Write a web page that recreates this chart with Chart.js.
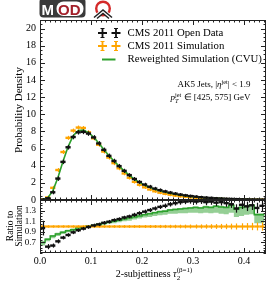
<!DOCTYPE html>
<html><head><meta charset="utf-8">
<script src="https://cdn.jsdelivr.net/npm/chart.js@4/dist/chart.umd.min.js"></script>
<style>
html,body{margin:0;padding:0;background:#fff;}
#wrap{position:relative;width:274px;height:287px;}
canvas{position:absolute;left:0;top:0;}
</style></head><body>
<div id="wrap"><canvas id="c1" width="274" height="287"></canvas><canvas id="c2" width="274" height="287"></canvas></div>
<script>
// ---------- data ----------
const binCenters = [0.005,0.015,0.025,0.035,0.045,0.055,0.065,0.075,0.085,0.095,0.105,0.115,0.125,0.135,0.145,0.155,0.165,0.175,0.185,0.195,0.205,0.215,0.225,0.235,0.245,0.255,0.265,0.275,0.285,0.295,0.305,0.315,0.325,0.335,0.345,0.355,0.365,0.375,0.385,0.395,0.405,0.415,0.425,0.435];
const binEdges = [0,0.01,0.02,0.03,0.04,0.05,0.06,0.07,0.08,0.09,0.10,0.11,0.12,0.13,0.14,0.15,0.16,0.17,0.18,0.19,0.20,0.21,0.22,0.23,0.24,0.25,0.26,0.27,0.28,0.29,0.30,0.31,0.32,0.33,0.34,0.35,0.36,0.37,0.38,0.39,0.40,0.41,0.42,0.43,0.44];
const dataMain = [0.05,0.2,0.9,2.5,4.45,6.15,7.35,7.9,7.95,7.75,7.3,6.6,5.85,5.15,4.55,3.95,3.4,2.9,2.45,2.1,1.8,1.55,1.33,1.15,1.0,0.86,0.74,0.63,0.54,0.46,0.39,0.33,0.28,0.24,0.2,0.17,0.14,0.12,0.1,0.08,0.07,0.06,0.05,0.04];
const dataMainErr = [0.05,0.08,0.12,0.15,0.15,0.15,0.15,0.15,0.15,0.15,0.15,0.15,0.15,0.15,0.15,0.14,0.13,0.12,0.12,0.11,0.1,0.1,0.09,0.09,0.08,0.08,0.07,0.07,0.06,0.06,0.05,0.05,0.05,0.04,0.04,0.04,0.03,0.03,0.03,0.03,0.03,0.02,0.02,0.02];
const simMain = [0.05,0.3,1.42,3.5,5.6,7.25,8.1,8.45,8.4,7.9,7.2,6.45,5.65,4.95,4.3,3.7,3.1,2.6,2.12,1.78,1.48,1.23,1.02,0.86,0.73,0.62,0.52,0.44,0.37,0.31,0.27,0.23,0.19,0.16,0.14,0.12,0.1,0.08,0.07,0.06,0.05,0.04,0.035,0.03];
const simMainErr = [0.05,0.08,0.12,0.12,0.12,0.12,0.12,0.12,0.12,0.12,0.12,0.12,0.12,0.12,0.12,0.11,0.1,0.1,0.09,0.09,0.08,0.08,0.07,0.07,0.06,0.06,0.05,0.05,0.05,0.04,0.04,0.04,0.03,0.03,0.03,0.03,0.03,0.02,0.02,0.02,0.02,0.02,0.02,0.02];
const rewMain = [0.05,0.25,1.05,2.6,4.5,6.2,7.5,8.1,8.15,7.85,7.35,6.65,5.9,5.2,4.55,3.95,3.4,2.9,2.42,2.05,1.74,1.48,1.26,1.08,0.93,0.8,0.68,0.58,0.49,0.42,0.36,0.31,0.26,0.22,0.19,0.16,0.14,0.12,0.1,0.08,0.07,0.06,0.05,0.04];

const ratioData = [0.97,0.62,0.64,0.72,0.79,0.84,0.89,0.93,0.96,0.99,1.02,1.04,1.07,1.09,1.12,1.14,1.17,1.19,1.22,1.25,1.28,1.31,1.34,1.37,1.39,1.42,1.44,1.46,1.47,1.48,1.47,1.48,1.46,1.47,1.45,1.46,1.44,1.42,1.34,1.41,1.38,1.4,1.35,1.39];
const ratioDataErr = [0.12,0.03,0.02,0.02,0.015,0.015,0.015,0.015,0.015,0.015,0.015,0.015,0.015,0.015,0.015,0.015,0.015,0.015,0.02,0.02,0.02,0.02,0.02,0.02,0.025,0.025,0.025,0.03,0.03,0.03,0.035,0.035,0.04,0.04,0.045,0.045,0.05,0.05,0.06,0.06,0.07,0.07,0.08,0.09];
const ratioSim = [1,1,1,1,1,1,1,1,1,1,1,1,1,1,1,1,1,1,1,1,1,1,1,1,1,1,1,1,1,1,1,1,1,1,1,1,1,1,1,1,1,1,1,1];
const ratioSimErr = [0.01,0.005,0.004,0.004,0.004,0.004,0.004,0.004,0.004,0.004,0.004,0.005,0.005,0.005,0.006,0.006,0.007,0.007,0.008,0.008,0.009,0.01,0.01,0.011,0.012,0.013,0.014,0.015,0.016,0.018,0.02,0.021,0.023,0.025,0.027,0.03,0.032,0.035,0.038,0.042,0.046,0.05,0.055,0.06];
const ratioRew = [1.0,0.7,0.76,0.82,0.86,0.89,0.92,0.94,0.97,0.99,1.01,1.02,1.04,1.06,1.08,1.1,1.12,1.14,1.16,1.18,1.2,1.22,1.24,1.26,1.28,1.29,1.31,1.32,1.33,1.34,1.35,1.36,1.35,1.37,1.36,1.38,1.37,1.36,1.4,1.33,1.36,1.38,1.4,1.22];
const ratioRewLo = [0.96,0.64,0.72,0.78,0.82,0.86,0.89,0.91,0.94,0.96,0.98,0.99,1.01,1.03,1.05,1.06,1.08,1.1,1.11,1.13,1.15,1.17,1.18,1.2,1.21,1.22,1.24,1.24,1.25,1.25,1.26,1.26,1.25,1.26,1.25,1.26,1.24,1.23,1.26,1.18,1.2,1.22,1.23,1.06];
const ratioRewHi = [1.02,0.72,0.78,0.84,0.88,0.91,0.94,0.96,0.99,1.01,1.03,1.04,1.06,1.08,1.1,1.12,1.14,1.16,1.18,1.2,1.22,1.24,1.26,1.28,1.3,1.31,1.33,1.34,1.35,1.36,1.37,1.38,1.37,1.39,1.38,1.4,1.39,1.38,1.42,1.35,1.38,1.4,1.42,1.25];

const mainYTicks = [0,2,4,6,8,10,12,14,16,18,20];
const ratioYTicks = [0.7,0.9,1.1,1.3];
const xTicks = [0.0,0.1,0.2,0.3,0.4];
const xTickLabels = ['0.0','0.1','0.2','0.3','0.4'];
const legendLabels = ['CMS 2011 Open Data','CMS 2011 Simulation','Reweighted Simulation (CVU)'];

// ---------- layout / style ----------
const L = 40, R = 266, T = 20, MID = 200, B = 253;
const XMAX = 0.443;
const SERIF = "'Liberation Serif','Times New Roman',serif";
const BLACK = '#111', ORANGE = '#ffa500', GREEN = '#2ca02c', BAND = 'rgba(44,160,44,0.5)';

const pts = (xs, ys) => xs.map((x,i)=>({x, y: ys[i]}));
const stepPts = (edges, ys) => edges.map((x,i)=>({x, y: ys[Math.min(i, ys.length-1)]}));

function rich(ctx, parts, x, y, align){
  let w = 0;
  parts.forEach(p=>{ ctx.font = (p.it?'italic ':'') + p.s + 'px ' + SERIF; p.w = ctx.measureText(p.t).width; if(!p.noAdv) w += p.w; });
  let cx = align==='right' ? x - w : align==='center' ? x - w/2 : x;
  ctx.textAlign = 'left';
  parts.forEach(p=>{ ctx.font = (p.it?'italic ':'') + p.s + 'px ' + SERIF; ctx.fillText(p.t, cx, y + (p.dy||0)); if(!p.noAdv) cx += p.w; });
}

const errPlugin = {
  id: 'err',
  afterDatasetDraw(chart, args){
    const ds = chart.data.datasets[args.index];
    if(!ds.errors) return;
    const ctx = chart.ctx, xs = chart.scales.x, ys = chart.scales.y, a = chart.chartArea;
    ctx.save();
    ctx.beginPath(); ctx.rect(a.left, a.top, a.right-a.left, a.bottom-a.top); ctx.clip();
    ctx.strokeStyle = ds.borderColor; ctx.lineWidth = ds.errWidth || 1.2;
    ds.data.forEach((p,i)=>{
      const e = ds.errors[i]; if(!e) return;
      const x = Math.round(xs.getPixelForValue(p.x)) + 0.5;
      ctx.beginPath();
      ctx.moveTo(x, ys.getPixelForValue(p.y - e) + 1);
      ctx.lineTo(x, ys.getPixelForValue(p.y + e) - 1);
      ctx.stroke();
    });
    ctx.restore();
  }
};

function ticksPlugin(yMajor, yMinorStep, yMin, yMax){
  return {
    id: 'frameTicks',
    afterDraw(chart){
      const ctx = chart.ctx, a = chart.chartArea, xs = chart.scales.x, ys = chart.scales.y;
      ctx.save();
      ctx.strokeStyle = '#222'; ctx.lineWidth = 1;
      ctx.strokeRect(Math.round(a.left)+0.5, Math.round(a.top)+0.5, Math.round(a.right-a.left)-1, Math.round(a.bottom-a.top)-1);
      ctx.beginPath();
      for(let k=0; k<=44; k++){
        const v = k*0.01; if(v > XMAX) break;
        const major = (k % 10 === 0);
        const len = major ? 5 : 2.5;
        const x = Math.round(xs.getPixelForValue(v)) + 0.5;
        ctx.moveTo(x, a.bottom); ctx.lineTo(x, a.bottom - len);
        ctx.moveTo(x, a.top); ctx.lineTo(x, a.top + len);
      }
      const n = Math.round((yMax - yMin)/yMinorStep);
      for(let k=0; k<=n; k++){
        const v = yMin + k*yMinorStep;
        const major = yMajor.some(m=>Math.abs(m-v)<1e-6);
        const len = major ? 5 : 2.5;
        const y = Math.round(ys.getPixelForValue(v)) + 0.5;
        ctx.moveTo(a.left, y); ctx.lineTo(a.left + len, y);
        ctx.moveTo(a.right, y); ctx.lineTo(a.right - len, y);
      }
      ctx.stroke();
      ctx.restore();
    }
  };
}

const decoPlugin = {
  id: 'deco',
  afterDraw(chart){
    const ctx = chart.ctx;
    ctx.save();
    // logo
    ctx.fillStyle = '#3a3a3a';
    ctx.beginPath(); ctx.roundRect(39.5, -2, 46, 19.5, 4); ctx.fill();
    ctx.fillStyle = '#fff';
    ctx.beginPath(); ctx.roundRect(56.5, 1.5, 27, 14.5, 7); ctx.fill();
    ctx.font = "bold 15px 'Liberation Sans',Arial,sans-serif";
    ctx.textBaseline = 'alphabetic'; ctx.textAlign = 'left';
    ctx.fillStyle = '#fff'; ctx.fillText('M', 41.5, 14.5);
    ctx.fillStyle = '#a3202a'; ctx.fillText('OD', 58, 14.5);
    ctx.strokeStyle = '#d42a2a'; ctx.lineWidth = 2.4;
    ctx.beginPath(); ctx.arc(103, 8.5, 6.8, 0, Math.PI*2); ctx.stroke();
    ctx.strokeStyle = '#fff'; ctx.lineWidth = 4;
    ctx.beginPath(); ctx.moveTo(94,18); ctx.lineTo(103,10.5); ctx.lineTo(112,18); ctx.stroke();
    ctx.strokeStyle = '#222'; ctx.lineWidth = 1.5;
    ctx.beginPath(); ctx.moveTo(94,17.5); ctx.lineTo(103,10); ctx.lineTo(112,17.5); ctx.stroke();
    ctx.beginPath(); ctx.moveTo(97,18.5); ctx.lineTo(103,13.5); ctx.lineTo(109,18.5); ctx.stroke();

    // legend
    ctx.fillStyle = '#000'; ctx.textBaseline = 'middle';
    const rows = [33, 46, 59.5];
    const cross = (cx, cy, col) => {
      ctx.strokeStyle = col; ctx.lineWidth = 1.8;
      ctx.beginPath(); ctx.moveTo(cx-4.5, cy); ctx.lineTo(cx+4.5, cy); ctx.moveTo(cx, cy-4.5); ctx.lineTo(cx, cy+4.5); ctx.stroke();
      ctx.lineWidth = 1.2;
      ctx.beginPath(); ctx.moveTo(cx-2, cy-4.5); ctx.lineTo(cx+2, cy-4.5); ctx.moveTo(cx-2, cy+4.5); ctx.lineTo(cx+2, cy+4.5); ctx.stroke();
    };
    cross(102.5, rows[0], BLACK); cross(116, rows[0], BLACK);
    cross(102.5, rows[1], ORANGE); cross(116, rows[1], ORANGE);
    ctx.strokeStyle = GREEN; ctx.lineWidth = 2;
    ctx.beginPath(); ctx.moveTo(102, rows[2]); ctx.lineTo(115.5, rows[2]); ctx.stroke();
    ctx.font = '10.8px ' + SERIF; ctx.textAlign = 'left'; ctx.fillStyle = '#000';
    legendLabels.forEach((t,i)=> ctx.fillText(t, 127.5, rows[i]));

    // annotation
    ctx.textBaseline = 'alphabetic';
    rich(ctx, [{t:'AK5 Jets, |',s:9},{t:'η',s:9,it:true},{t:'jet',s:6.3,dy:-3.5},{t:'| < 1.9',s:9}], 250.5, 87, 'right');
    rich(ctx, [{t:'p',s:9,it:true},{t:'T',s:6.3,dy:2.5,it:true,noAdv:true},{t:'jet',s:6.3,dy:-3.5},{t:' ∈ [425, 575] GeV',s:9}], 250.5, 100, 'right');

    // main y title
    ctx.save();
    ctx.translate(19, 110); ctx.rotate(-Math.PI/2);
    ctx.font = '11px ' + SERIF; ctx.textAlign = 'center'; ctx.textBaseline = 'middle';
    ctx.fillText('Probability Density', 0, 0);
    ctx.restore();
    ctx.restore();
  }
};

const ratioDeco = {
  id: 'ratioDeco',
  afterDraw(chart){
    const ctx = chart.ctx;
    ctx.save();
    ctx.fillStyle = '#000';
    ctx.save();
    ctx.translate(10, 226); ctx.rotate(-Math.PI/2);
    ctx.font = '9.5px ' + SERIF; ctx.textAlign = 'center'; ctx.textBaseline = 'middle';
    ctx.fillText('Ratio to', 0, 0);
    ctx.fillText('Simulation', 0, 9.5);
    ctx.restore();
    ctx.textBaseline = 'alphabetic';
    rich(ctx, [{t:'2-subjettiness ',s:10},{t:'τ',s:10,it:true},{t:'2',s:7,dy:2.5,noAdv:true},{t:'(β=1)',s:7,dy:-5}], 154, 277, 'center');
    ctx.restore();
  }
};

const baseFont = {family: SERIF, size: 10};

// ---------- main panel ----------
new Chart(document.getElementById('c1'), {
  type: 'line',
  data: { datasets: [
    { label: legendLabels[0], data: pts(binCenters, dataMain), showLine: false, pointStyle: 'line', pointRadius: 2.6, pointBorderWidth: 2.4, borderColor: BLACK, errors: dataMainErr, errWidth: 1.2 },
    { label: legendLabels[2], data: pts(binCenters, rewMain), borderColor: GREEN, borderWidth: 1.6, pointRadius: 0, tension: 0, fill: false },
    { label: legendLabels[1], data: pts(binCenters, simMain), showLine: false, pointStyle: 'line', pointRadius: 2.6, pointBorderWidth: 2.4, borderColor: ORANGE, errors: simMainErr, errWidth: 1.2 }
  ]},
  options: {
    responsive: false, animation: false, devicePixelRatio: 1,
    layout: { padding: { left: 0, right: 274 - R, top: T, bottom: 287 - MID } },
    plugins: { legend: { display: false }, tooltip: { enabled: false } },
    scales: {
      x: { type: 'linear', min: 0, max: XMAX, display: false },
      y: { type: 'linear', min: 0, max: 21,
           afterFit: s => { s.width = L; },
           afterBuildTicks: s => { s.ticks = mainYTicks.map(v => ({ value: v })); },
           grid: { display: false, drawTicks: false }, border: { display: false },
           ticks: { font: baseFont, color: '#000', padding: 4 } }
    }
  },
  plugins: [errPlugin, ticksPlugin(mainYTicks, 0.5, 0, 21), decoPlugin]
});

// ---------- ratio panel ----------
new Chart(document.getElementById('c2'), {
  type: 'line',
  data: { datasets: [
    { label: 'data/sim', data: pts(binCenters, ratioData), showLine: false, pointStyle: 'line', pointRadius: 2.6, pointBorderWidth: 2.4, borderColor: BLACK, errors: ratioDataErr, errWidth: 1.2 },
    { label: 'sim/sim', data: pts(binCenters, ratioSim), showLine: false, pointStyle: 'line', pointRadius: 2.6, pointBorderWidth: 2.2, borderColor: ORANGE, errors: ratioSimErr, errWidth: 1.2 },
    { label: 'rew/sim', data: stepPts(binEdges, ratioRew), stepped: 'after', borderColor: GREEN, borderWidth: 1.5, pointRadius: 0, fill: false },
    { label: 'band hi', data: stepPts(binEdges, ratioRewHi), stepped: 'after', borderWidth: 0, borderColor: 'rgba(0,0,0,0)', pointRadius: 0, fill: '+1', backgroundColor: BAND },
    { label: 'band lo', data: stepPts(binEdges, ratioRewLo), stepped: 'after', borderWidth: 0, borderColor: 'rgba(0,0,0,0)', pointRadius: 0, fill: false }
  ]},
  options: {
    responsive: false, animation: false, devicePixelRatio: 1,
    layout: { padding: { left: 0, right: 274 - R, top: MID, bottom: 0 } },
    plugins: { legend: { display: false }, tooltip: { enabled: false } },
    scales: {
      x: { type: 'linear', min: 0, max: XMAX,
           afterFit: s => { s.height = 287 - B; },
           afterBuildTicks: s => { s.ticks = xTicks.map(v => ({ value: v })); },
           grid: { display: false, drawTicks: false }, border: { display: false },
           ticks: { font: baseFont, color: '#000', padding: 2, maxRotation: 0,
                    callback: (v) => { const i = xTicks.findIndex(t => Math.abs(t - v) < 1e-9); return i >= 0 ? xTickLabels[i] : ''; } } },
      y: { type: 'linear', min: 0.5, max: 1.5,
           afterFit: s => { s.width = L; },
           afterBuildTicks: s => { s.ticks = ratioYTicks.map(v => ({ value: v })); },
           grid: { display: false, drawTicks: false }, border: { display: false },
           ticks: { font: { family: SERIF, size: 9 }, color: '#000', padding: 4, callback: v => v.toFixed(1) } }
    }
  },
  plugins: [errPlugin, ticksPlugin(ratioYTicks, 0.05, 0.5, 1.5), ratioDeco]
});
</script>
</body></html>
